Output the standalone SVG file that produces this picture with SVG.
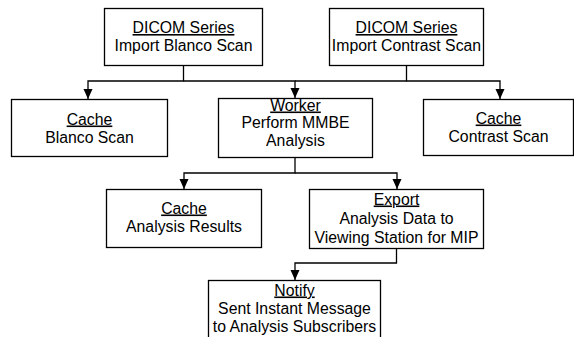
<svg xmlns="http://www.w3.org/2000/svg" width="574" height="337" viewBox="0 0 574 337">
<defs>
<style>
.box{fill:#fff;stroke:#000;stroke-width:1.3}
.t{font-family:"Liberation Sans",Arial,sans-serif;font-size:15.8px;fill:#000;text-anchor:middle}
.u{text-decoration:underline}
.c{fill:none;stroke:#000;stroke-width:1.3}
</style>
<marker id="ah" viewBox="0 0 10 10" refX="10" refY="5" markerWidth="10" markerHeight="10" markerUnits="userSpaceOnUse" orient="auto">
<path d="M0,0.5 L10,5 L0,9.5 Z" fill="#000"/>
</marker>
</defs>
<rect width="574" height="337" fill="#fff"/>
<g id="connectors">
<path class="c" d="M183.5,65 V81 H88 V99" marker-end="url(#ah)"/>
<path class="c" d="M183.5,81 H295 V98" marker-end="url(#ah)"/>
<path class="c" d="M406.5,65 V81 H295"/>
<path class="c" d="M406.5,81 H500 V99" marker-end="url(#ah)"/>
<path class="c" d="M295,157 V173 H184 V189" marker-end="url(#ah)"/>
<path class="c" d="M295,173 H397 V189" marker-end="url(#ah)"/>
<path class="c" d="M396.5,248 V263 H295 V280" marker-end="url(#ah)"/>
</g>
<g id="dicom-blanco">
<rect class="box" x="104.5" y="8.5" width="158" height="57"/>
<text class="t u" x="183.5" y="33">DICOM Series</text>
<text class="t" x="183.5" y="51">Import Blanco Scan</text>
</g>
<g id="dicom-contrast">
<rect class="box" x="329.5" y="8.5" width="154" height="57"/>
<text class="t u" x="406.5" y="33">DICOM Series</text>
<text class="t" x="406.5" y="51">Import Contrast Scan</text>
</g>
<g id="cache-blanco">
<rect class="box" x="11.5" y="99.5" width="156" height="57"/>
<text class="t u" x="89.5" y="124.5">Cache</text>
<text class="t" x="89.5" y="142.5">Blanco Scan</text>
</g>
<g id="worker">
<rect class="box" x="218.5" y="98.5" width="154" height="59"/>
<text class="t u" x="295.5" y="110.5">Worker</text>
<text class="t" x="295.5" y="128">Perform MMBE</text>
<text class="t" x="295.5" y="145.5">Analysis</text>
</g>
<g id="cache-contrast">
<rect class="box" x="423.5" y="99.5" width="150" height="56"/>
<text class="t u" x="498.5" y="123.5">Cache</text>
<text class="t" x="498.5" y="141.5">Contrast Scan</text>
</g>
<g id="cache-results">
<rect class="box" x="106.5" y="189.5" width="155" height="58"/>
<text class="t u" x="184" y="213.5">Cache</text>
<text class="t" x="184" y="231.5">Analysis Results</text>
</g>
<g id="export">
<rect class="box" x="309.5" y="189.5" width="174" height="59"/>
<text class="t u" x="396.5" y="204.5">Export</text>
<text class="t" x="396.5" y="223.5">Analysis Data to</text>
<text class="t" x="396.5" y="242.5">Viewing Station for MIP</text>
</g>
<g id="notify">
<rect class="box" x="208.5" y="280.5" width="172" height="70"/>
<text class="t u" x="294.5" y="295.5">Notify</text>
<text class="t" x="294.5" y="313.5">Sent Instant Message</text>
<text class="t" x="294.5" y="331.5">to Analysis Subscribers</text>
</g>
</svg>
